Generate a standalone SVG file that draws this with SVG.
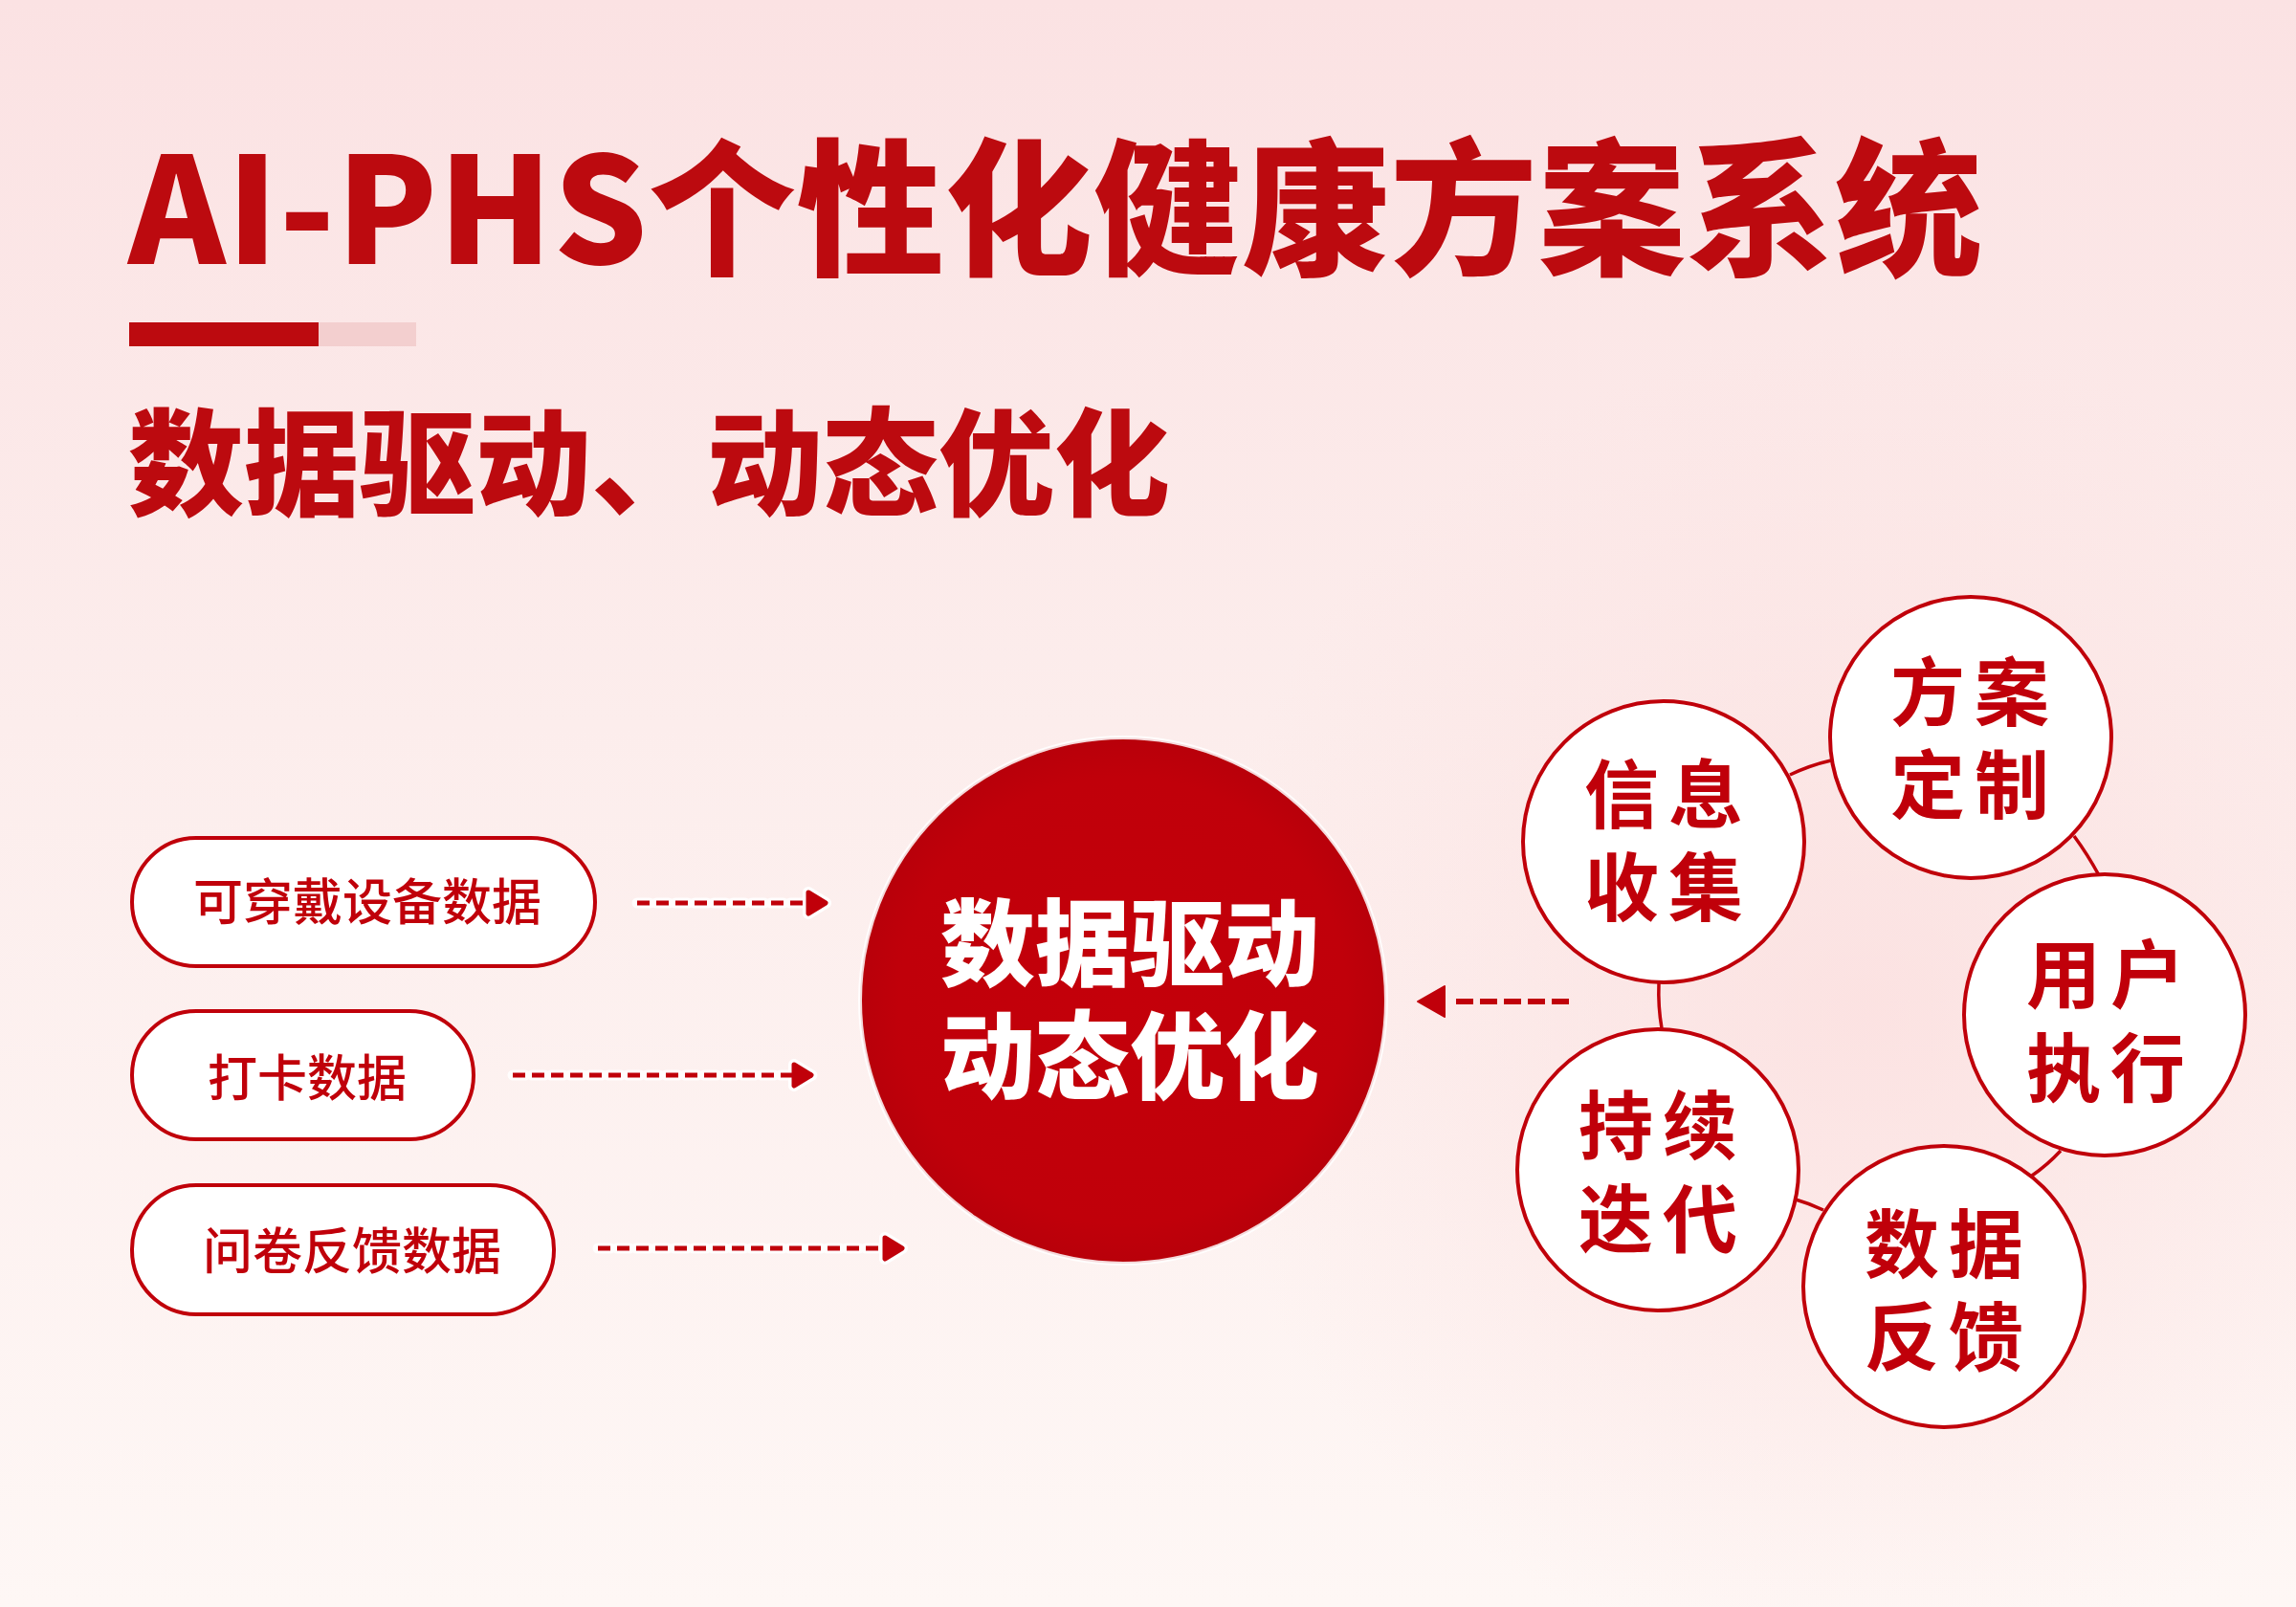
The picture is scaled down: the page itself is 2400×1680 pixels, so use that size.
<svg xmlns="http://www.w3.org/2000/svg" width="2400" height="1680" viewBox="0 0 2400 1680">
  <defs>
    <linearGradient id="bg" x1="0" y1="0" x2="0" y2="1">
      <stop offset="0" stop-color="#FBE2E3"/>
      <stop offset="0.45" stop-color="#FCEDEC"/>
      <stop offset="1" stop-color="#FEF7F5"/>
    </linearGradient>
    <radialGradient id="glow" cx="1950" cy="1050" r="700" gradientUnits="userSpaceOnUse">
      <stop offset="0" stop-color="#FBDCDC" stop-opacity="0.7"/>
      <stop offset="1" stop-color="#FBDCDC" stop-opacity="0"/>
    </radialGradient>
    <radialGradient id="core" cx="0.5" cy="0.5" r="0.5">
      <stop offset="0" stop-color="#C4000A"/>
      <stop offset="0.85" stop-color="#C0000A"/>
      <stop offset="1" stop-color="#B8000A"/>
    </radialGradient>
    <marker id="headR" viewBox="0 0 28 30" refX="24" refY="15" markerWidth="28" markerHeight="30" markerUnits="userSpaceOnUse" orient="auto">
      <path d="M5 4 L23 15 L5 26 Z" fill="#C0000A" stroke="#C0000A" stroke-width="5" stroke-linejoin="round"/>
    </marker>
    <marker id="haloR" viewBox="0 0 36 38" refX="28" refY="19" markerWidth="36" markerHeight="38" markerUnits="userSpaceOnUse" orient="auto">
      <path d="M9 8 L27 19 L9 30 Z" fill="#FFFFFF" stroke="#FFFFFF" stroke-width="12" stroke-linejoin="round"/>
    </marker>
    <style>
      .cjk { font-family: "Noto Sans CJK SC", "Noto Sans", sans-serif; }
      .title { font-weight: 900; fill: #BC0A0F; }
      .pill { fill: #FFFFFF; stroke: #C0000A; stroke-width: 4; }
      .pilltxt { font-weight: 500; fill: #C0000A; font-size: 52px; text-anchor: middle; }
      .node { fill: #FFFFFF; stroke: #C0000A; stroke-width: 4; }
      .nodetxt { font-weight: 700; fill: #C0000A; font-size: 78px; text-anchor: middle; letter-spacing: 10px; }
      .dash { stroke: #C0000A; stroke-width: 5; fill: none; stroke-dasharray: 13 7; }
      .halo { stroke: #FFFFFF; stroke-opacity: 0.85; stroke-width: 11; fill: none; stroke-dasharray: 13 7; stroke-linecap: round; }
      .link { stroke: #C0000A; stroke-width: 3.5; fill: none; }
    </style>
  </defs>

  <rect x="0" y="0" width="2400" height="1680" fill="url(#bg)"/>
  <rect x="0" y="0" width="2400" height="1680" fill="url(#glow)"/>

  <g id="header">
    <text class="cjk title" x="134" y="276" font-size="154" textLength="1938">AI-PHS个性化健康方案系统</text>
    <rect x="135" y="337" width="198" height="25" fill="#BC0A0F"/>
    <rect x="333" y="337" width="102" height="25" fill="#F3CFCF"/>
    <text class="cjk title" x="134" y="529" font-size="121">数据驱动、动态优化</text>
  </g>

  <g id="connectors">
    <path class="halo" d="M666 944 H864" marker-end="url(#haloR)"/>
    <path class="halo" d="M536 1124 H849" marker-end="url(#haloR)"/>
    <path class="halo" d="M625 1305 H944" marker-end="url(#haloR)"/>
    <path class="dash" d="M666 944 H864" marker-end="url(#headR)"/>
    <path class="dash" d="M536 1124 H849" marker-end="url(#headR)"/>
    <path class="dash" d="M625 1305 H944" marker-end="url(#headR)"/>
    <path d="M1640 1047 H1515" stroke="#C0000A" stroke-width="6" fill="none" stroke-dasharray="18 7"/>
    <path d="M1510 1031 L1482 1047 L1510 1063 Z" fill="#C0000A" stroke="#C0000A" stroke-width="2" stroke-linejoin="round"/>
    <path class="link" d="M1871 810 Q1892 800 1914 795"/>
    <path class="link" d="M2168 874 Q2182 893 2194 915"/>
    <path class="link" d="M2154 1203 Q2140 1218 2124 1229"/>
    <path class="link" d="M1906 1265 Q1891 1258 1877 1254"/>
    <path class="link" d="M1734 1028 Q1733 1052 1737 1075"/>
  </g>

  <g id="src-wearable">
    <rect class="pill" x="138" y="876" width="484" height="134" rx="67"/>
    <text class="cjk pilltxt" x="384" y="962" font-size="53">可穿戴设备数据</text>
  </g>
  <g id="src-checkin">
    <rect class="pill" x="138" y="1057" width="357" height="134" rx="67"/>
    <text class="cjk pilltxt" x="321" y="1146">打卡数据</text>
  </g>
  <g id="src-survey">
    <rect class="pill" x="138" y="1239" width="441" height="135" rx="67"/>
    <text class="cjk pilltxt" x="368" y="1327">问卷反馈数据</text>
  </g>

  <g id="core-node">
    <circle cx="1174" cy="1046" r="275" fill="url(#core)" stroke="#FFFFFF" stroke-opacity="0.85" stroke-width="4"/>
    <text class="cjk" x="1181" y="1023" font-size="99" font-weight="900" fill="#FFFFFF" text-anchor="middle">数据驱动</text>
    <text class="cjk" x="1181" y="1141" font-size="99" font-weight="900" fill="#FFFFFF" text-anchor="middle">动态优化</text>
  </g>

  <g id="step-collect">
    <circle class="node" cx="1739" cy="880" r="147"/>
    <text class="cjk nodetxt" x="1744" y="860">信息</text>
    <text class="cjk nodetxt" x="1744" y="957">收集</text>
  </g>
  <g id="step-plan">
    <circle class="node" cx="2060" cy="771" r="147"/>
    <text class="cjk nodetxt" x="2064" y="753">方案</text>
    <text class="cjk nodetxt" x="2064" y="850">定制</text>
  </g>
  <g id="step-execute">
    <circle class="node" cx="2200" cy="1061" r="147"/>
    <text class="cjk nodetxt" x="2206" y="1048">用户</text>
    <text class="cjk nodetxt" x="2206" y="1146">执行</text>
  </g>
  <g id="step-feedback">
    <circle class="node" cx="2032" cy="1345" r="147"/>
    <text class="cjk nodetxt" x="2037" y="1330">数据</text>
    <text class="cjk nodetxt" x="2037" y="1427">反馈</text>
  </g>
  <g id="step-iterate">
    <circle class="node" cx="1733" cy="1223" r="147"/>
    <text class="cjk nodetxt" x="1738" y="1206">持续</text>
    <text class="cjk nodetxt" x="1738" y="1304">迭代</text>
  </g>
</svg>
